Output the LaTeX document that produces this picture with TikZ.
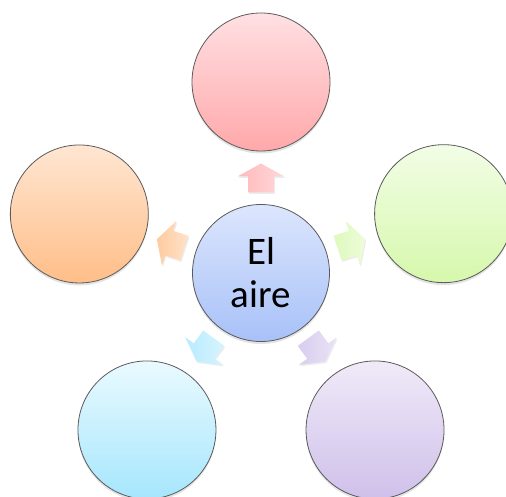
\documentclass[tikz,border=0pt]{standalone}
\usepackage{fontspec}
\setmainfont{Carlito}
\usetikzlibrary{shadows}
\definecolor{edgegray}{HTML}{5A5A5A}
\definecolor{pinkT}{HTML}{FFE0E3}
\definecolor{pinkB}{HTML}{FFA8AA}
\definecolor{oranT}{HTML}{FFE6D2}
\definecolor{oranB}{HTML}{FFBE88}
\definecolor{greenT}{HTML}{F2FDE6}
\definecolor{greenB}{HTML}{D6F8AC}
\definecolor{cyanT}{HTML}{E9FAFF}
\definecolor{cyanB}{HTML}{A6E6FD}
\definecolor{lavT}{HTML}{F0EAF8}
\definecolor{lavB}{HTML}{CFC0EA}
\definecolor{blueT}{HTML}{DCE6FD}
\definecolor{blueB}{HTML}{A8C1F8}
\tikzset{
  bubble/.style={circle, draw=edgegray, line width=0.8pt, minimum size=138pt, inner sep=0pt,
    drop shadow={opacity=0.22, shadow xshift=0pt, shadow yshift=-2.5pt}},
  blockarrow/.style={draw=none,
    drop shadow={opacity=0.15, shadow xshift=1pt, shadow yshift=-1.5pt}}
}
\newcommand{\blockarr}[3]{%
  \begin{scope}[shift={(#1)}, rotate=#2]
    \path[blockarrow, left color=#3!80, right color=#3!45]
      (-14.5,-13) -- (1.5,-13) -- (1.5,-23.5) -- (14.5,0) -- (1.5,23.5) -- (1.5,13) -- (-14.5,13) -- cycle;
  \end{scope}}
\begin{document}
\begin{tikzpicture}[x=1pt,y=1pt]
\useasboundingbox (0,0) rectangle (506,497);
\clip (0,0) rectangle (506,497);
\coordinate (c) at (261,224);
% outer circles
\path (c) ++(90:191)  node[bubble, top color=pinkT, bottom color=pinkB] (ntop) {};
\path (c) ++(162:191) node[bubble, top color=oranT, bottom color=oranB] (nleft) {};
\path (c) ++(18:192)  node[bubble, top color=greenT, bottom color=greenB] (nright) {};
\path (c) ++(234:194) node[bubble, top color=cyanT, bottom color=cyanB] (nbl) {};
\path (c) ++(306:194) node[bubble, top color=lavT, bottom color=lavB] (nbr) {};
% arrow positions
\path (c) ++(90:95)  coordinate (ptop);
\path (c) ++(162:95) coordinate (pleft);
\path (c) ++(18:95)  coordinate (pright);
\path (c) ++(234:95) coordinate (pbl);
\path (c) ++(306:95) coordinate (pbr);
\blockarr{ptop}{90}{pinkB}
\blockarr{pleft}{162}{oranB}
\blockarr{pright}{18}{greenB}
\blockarr{pbl}{234}{cyanB}
\blockarr{pbr}{306}{lavB}
% center
\node[bubble, minimum size=137pt, top color=blueT, bottom color=blueB, align=center,
  font=\fontsize{39pt}{43pt}\selectfont] (center) at (c) {El\\aire};
\end{tikzpicture}
\end{document}
